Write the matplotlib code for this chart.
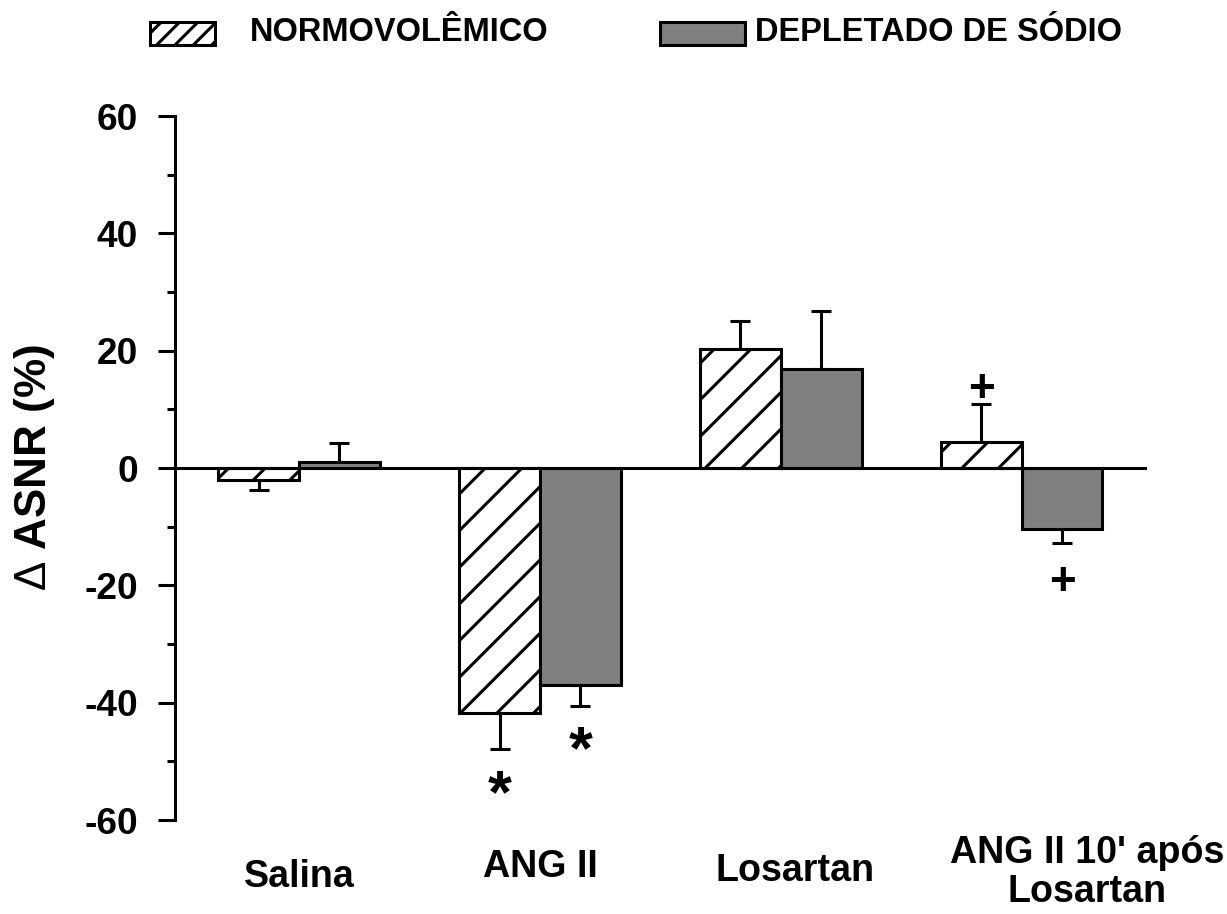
import numpy as np
import matplotlib.pyplot as plt
from matplotlib.patches import Rectangle

plt.rcParams['font.family'] = ['Liberation Sans', 'DejaVu Sans']
plt.rcParams['font.weight'] = 'bold'
plt.rcParams['axes.unicode_minus'] = False
plt.rcParams['mathtext.fontset'] = 'custom'
plt.rcParams['mathtext.rm'] = 'Liberation Sans:weight=normal'
plt.rcParams['hatch.linewidth'] = 1.0
plt.rcParams['hatch.color'] = 'black'

# Dados: variação da ASNR (%) por tratamento
grupos = ['Salina', 'ANG II', 'Losartan', "ANG II 10' após\nLosartan"]
normo = [-2.0, -41.8, 20.3, 4.4]
normo_ep = [1.8, 6.1, 4.7, 6.5]
depl = [1.1, -37.0, 16.9, -10.4]
depl_ep = [3.2, 3.6, 9.9, 2.3]

# marcadores de significância: (grupo, série, símbolo, y)
marcas = [(1, 0, '*', -54.0), (1, 1, '*', -46.4), (3, 0, '+', 14.1), (3, 1, '+', -18.8)]

x = np.arange(len(grupos))
w = 0.335
cinza = '#808080'
lw = 1.0

fig = plt.figure(figsize=(1227 / 220, 914 / 220), dpi=220)
ax = fig.add_axes([0.1426, 0.1028, 0.7922, 0.7702])

ax.bar(x - w / 2, normo, w, color='white', edgecolor='black', hatch='//', linewidth=lw, zorder=2)
ax.bar(x + w / 2, depl, w, color=cinza, edgecolor='black', linewidth=lw, zorder=2)

# barras de erro apenas no sentido da barra
for xs, vals, eps in [(x - w / 2, normo, normo_ep), (x + w / 2, depl, depl_ep)]:
    vals = np.array(vals)
    eps = np.array(eps)
    low = np.where(vals < 0, eps, 0)
    high = np.where(vals >= 0, eps, 0)
    ax.errorbar(xs, vals, yerr=[low, high], fmt='none', ecolor='black',
                elinewidth=lw, capsize=3.3, capthick=lw, zorder=1)

ax.axhline(0, color='black', linewidth=lw, zorder=3)

# símbolos centrados no ponto (deslocamento até o meio do glifo)
meio = {'*': (20, 0.45), '+': (15, 0.36)}
for g, s, simb, y in marcas:
    xp = x[g] - w / 2 if s == 0 else x[g] + w / 2
    tam, frac = meio[simb]
    ax.annotate(simb, (xp, y), xytext=(0, -frac * tam), textcoords='offset points',
                ha='center', va='baseline', fontsize=tam, fontweight='bold')

ax.set_xlim(-0.515, 3.52)
ax.set_ylim(-60, 60)
ax.set_yticks(np.arange(-60, 61, 20))
ax.set_yticks(np.arange(-50, 60, 20), minor=True)
ax.tick_params(axis='y', which='major', length=5.6, width=lw, labelsize=12.1, pad=6.5)
ax.tick_params(axis='y', which='minor', length=2.7, width=lw)
ax.set_xticks([])
for lado in ['top', 'right', 'bottom']:
    ax.spines[lado].set_visible(False)
ax.spines['left'].set_linewidth(lw)

# rótulos das categorias (linha de base da última linha)
desloc = [0.0, 0.0, 0.058, 0.27]
base = [-71.4, -69.7, -70.4, -74.0]
for xi, d, yy, nome in zip(x, desloc, base, grupos):
    ax.text(xi + d, yy, nome, ha='center', va='baseline', fontsize=12.3,
            fontweight='bold', linespacing=1.115, multialignment='center', clip_on=False)

ax.set_ylabel(r'$\Delta$ ASNR (%)', fontsize=14.4, fontweight='bold')
ax.yaxis.label.set_va('center')
ax.yaxis.set_label_coords(-0.145, 0.5)

# legenda desenhada à mão no topo
fig.add_artist(Rectangle((0.122, 0.951), 0.053, 0.025, transform=fig.transFigure,
                         facecolor='white', edgecolor='black', hatch='////', linewidth=lw))
fig.text(0.204, 0.964, 'NORMOVOLÊMICO', ha='left', va='center', fontsize=10.7, fontweight='bold')
fig.add_artist(Rectangle((0.538, 0.951), 0.069, 0.025, transform=fig.transFigure,
                         facecolor=cinza, edgecolor='black', linewidth=lw))
fig.text(0.615, 0.964, 'DEPLETADO DE SÓDIO', ha='left', va='center', fontsize=10.7, fontweight='bold')

fig.savefig('out.png', dpi=220)
